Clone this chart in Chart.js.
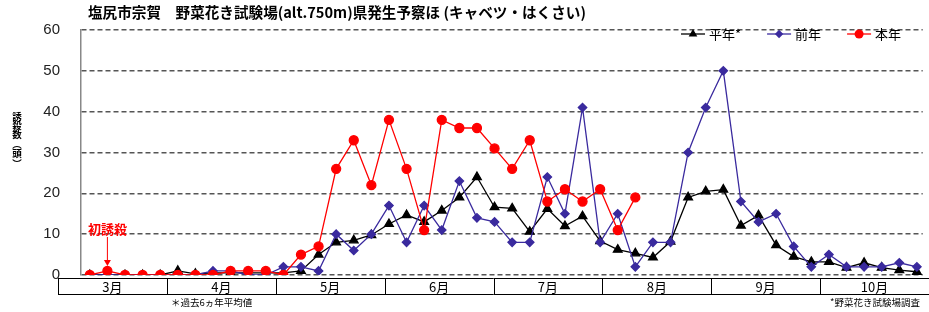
<!DOCTYPE html>
<html lang="ja">
<head>
  <meta charset="UTF-8">
  <title>塩尻市宗賀 野菜花き試験場 県発生予察ほ</title>
  <style>
    body {
      margin: 0;
      background: #fff;
    }
    #wrap {
      width: 929px;
      height: 312px;
    }
  </style>
</head>
<body>
  <div id="wrap"><canvas id="chart" width="929" height="312"></canvas></div>

  <script src="https://cdn.jsdelivr.net/npm/chart.js"></script>
  <script>
    // 半旬ごと (3月1半旬 〜 10月6半旬, 48 points)
    const months = ['3月', '4月', '5月', '6月', '7月', '8月', '9月', '10月'];
    const seriesNames = ['平年*', '前年', '本年'];

    const heinen = [0, 0, 0, 0, 0, 1, 0.3, 0.5, 0.5, 0.5, 0.5, 0.5,
      1, 5, 8, 8.5, 9.8, 12.5, 14.7, 13, 15.8, 19, 24, 16.6,
      16.3, 10.6, 16.2, 12, 14.4, 8.3, 6.2, 5.3, 4.3, 8.2, 19, 20.5,
      20.9, 12.1, 14.6, 7.3, 4.5, 3.2, 3.2, 1.8, 3, 1.8, 1.2, 0.8];
    const zennen = [0, 0, 0, 0, 0, 0, 0, 1, 1, 0, 0, 2,
      2, 1, 10, 6, 10, 17, 8, 17, 11, 23, 14, 13,
      8, 8, 24, 15, 41, 8, 15, 2, 8, 8, 30, 41,
      50, 18, 13, 15, 7, 2, 5, 2, 2, 2, 3, 2];
    const honnen = [0, 1, 0, 0, 0, 0, 0, 0, 1, 1, 1, 0,
      5, 7, 26, 33, 22, 38, 26, 11, 38, 36, 36, 31,
      26, 33, 18, 21, 18, 21, 11, 19];

    const yTicks = [0, 10, 20, 30, 40, 50, 60];

    const titleText = '塩尻市宗賀　野菜花き試験場(alt.750m)県発生予察ほ (キャベツ・はくさい)';
    const yTitle = ['誘', '殺', '数', '︵', '頭', '︶'];
    const noteLeft = '＊過去6ヵ年平均値';
    const noteRight = '*野菜花き試験場調査';
    const firstCatch = '初誘殺';
    const firstCatchIndex = 1;

    const jp = '"Noto Sans CJK JP", "Noto Sans", sans-serif';

    const toPoints = arr => arr.map((v, i) => ({ x: i, y: v }));

    function drawMarker(ctx, style, x, y, r, color) {
      ctx.save();
      ctx.fillStyle = color;
      ctx.beginPath();
      if (style === 'triangle') {
        ctx.moveTo(x, y - r);
        ctx.lineTo(x + 0.866 * r, y + 0.5 * r);
        ctx.lineTo(x - 0.866 * r, y + 0.5 * r);
        ctx.closePath();
      } else if (style === 'rectRot') {
        ctx.moveTo(x, y - r);
        ctx.lineTo(x + r, y);
        ctx.lineTo(x, y + r);
        ctx.lineTo(x - r, y);
        ctx.closePath();
      } else {
        ctx.arc(x, y, r, 0, Math.PI * 2);
      }
      ctx.fill();
      ctx.restore();
    }

    const decorations = {
      id: 'decorations',
      afterDraw(chart) {
        const ctx = chart.ctx;
        const ca = chart.chartArea;
        ctx.save();

        // title
        ctx.fillStyle = '#000';
        ctx.font = 'bold 14.6px ' + jp;
        ctx.textAlign = 'left';
        ctx.textBaseline = 'middle';
        ctx.fillText(titleText, 88, 12);

        // y axis title, stacked vertically
        ctx.font = 'bold 9.5px ' + jp;
        ctx.textAlign = 'center';
        yTitle.forEach((ch, i) => ctx.fillText(ch, 17, 116 + i * 9.4));

        // legend (line + marker + text)
        let lx = 681;
        const ly = 34;
        ctx.font = '13px ' + jp;
        ctx.textAlign = 'left';
        chart.data.datasets.forEach(ds => {
          ctx.strokeStyle = ds.borderColor;
          ctx.lineWidth = 1.3;
          ctx.beginPath();
          ctx.moveTo(lx, ly);
          ctx.lineTo(lx + 24, ly);
          ctx.stroke();
          drawMarker(ctx, ds.pointStyle, lx + 12, ly, ds.pointRadius, ds.borderColor);
          ctx.fillStyle = '#000';
          ctx.fillText(ds.label, lx + 28, ly);
          lx += 28 + ctx.measureText(ds.label).width + 26;
        });

        // month table under the plot
        const tl = ca.left - 23;
        const tr = chart.width;
        const tt = ca.bottom + 3;
        const tb = ca.bottom + 19;
        const cw = (tr - tl) / months.length;
        ctx.strokeStyle = '#000';
        ctx.lineWidth = 1;
        ctx.beginPath();
        ctx.moveTo(tl, tt + 0.5);
        ctx.lineTo(tr, tt + 0.5);
        ctx.moveTo(tl, tb + 0.5);
        ctx.lineTo(tr, tb + 0.5);
        for (let k = 0; k <= months.length; k++) {
          const x = Math.round(tl + k * cw) + 0.5;
          ctx.moveTo(x, tt);
          ctx.lineTo(x, tb);
        }
        ctx.stroke();
        ctx.fillStyle = '#000';
        ctx.font = '13px ' + jp;
        ctx.textAlign = 'center';
        months.forEach((m, k) => ctx.fillText(m, tl + (k + 0.5) * cw, (tt + tb) / 2 + 1));

        // notes
        ctx.font = '9.5px ' + jp;
        ctx.textAlign = 'left';
        ctx.fillText(noteLeft, 171, 302);
        ctx.textAlign = 'right';
        ctx.fillText(noteRight, 920, 302);

        // first catch annotation
        const px = chart.scales.x.getPixelForValue(firstCatchIndex);
        const py = chart.scales.y.getPixelForValue(honnen[firstCatchIndex]);
        ctx.fillStyle = '#ff0000';
        ctx.strokeStyle = '#ff0000';
        ctx.font = 'bold 13px ' + jp;
        ctx.textAlign = 'center';
        ctx.fillText(firstCatch, px, 229);
        ctx.lineWidth = 1;
        ctx.beginPath();
        ctx.moveTo(px, 237);
        ctx.lineTo(px, py - 9);
        ctx.stroke();
        ctx.beginPath();
        ctx.moveTo(px - 3.5, py - 11);
        ctx.lineTo(px + 3.5, py - 11);
        ctx.lineTo(px, py - 5);
        ctx.closePath();
        ctx.fill();

        ctx.restore();
      }
    };

    new Chart(document.getElementById('chart'), {
      type: 'line',
      data: {
        datasets: [{
          label: seriesNames[0],
          data: toPoints(heinen),
          borderColor: '#000000',
          backgroundColor: '#000000',
          borderWidth: 1.3,
          pointStyle: 'triangle',
          pointRadius: 5,
          order: 3
        }, {
          label: seriesNames[1],
          data: toPoints(zennen),
          borderColor: '#3a2a9e',
          backgroundColor: '#3a2a9e',
          borderWidth: 1.3,
          pointStyle: 'rectRot',
          pointRadius: 4.2,
          order: 2
        }, {
          label: seriesNames[2],
          data: toPoints(honnen),
          borderColor: '#ff0000',
          backgroundColor: '#ff0000',
          borderWidth: 1.3,
          pointStyle: 'circle',
          pointRadius: 4.5,
          order: 1
        }]
      },
      options: {
        responsive: false,
        devicePixelRatio: 1,
        animation: false,
        events: [],
        layout: {
          padding: { top: 22, bottom: 37, left: 0, right: 0 }
        },
        plugins: {
          legend: { display: false },
          title: { display: false },
          tooltip: { enabled: false }
        },
        scales: {
          x: {
            type: 'linear',
            min: -0.5,
            max: 47.33,
            display: false
          },
          y: {
            min: 0,
            max: 60,
            afterFit: s => { s.width = 81; },
            afterBuildTicks: s => { s.ticks = yTicks.map(v => ({ value: v })); },
            ticks: {
              padding: 21,
              color: '#222',
              font: { family: '"Liberation Sans", Arial, sans-serif', size: 15 }
            },
            grid: {
              color: '#555',
              lineWidth: 1.5,
              drawTicks: false
            },
            border: {
              display: true,
              color: '#888',
              width: 1.5,
              dash: [5, 3]
            }
          }
        }
      },
      plugins: [decorations]
    });
  </script>
</body>
</html>
